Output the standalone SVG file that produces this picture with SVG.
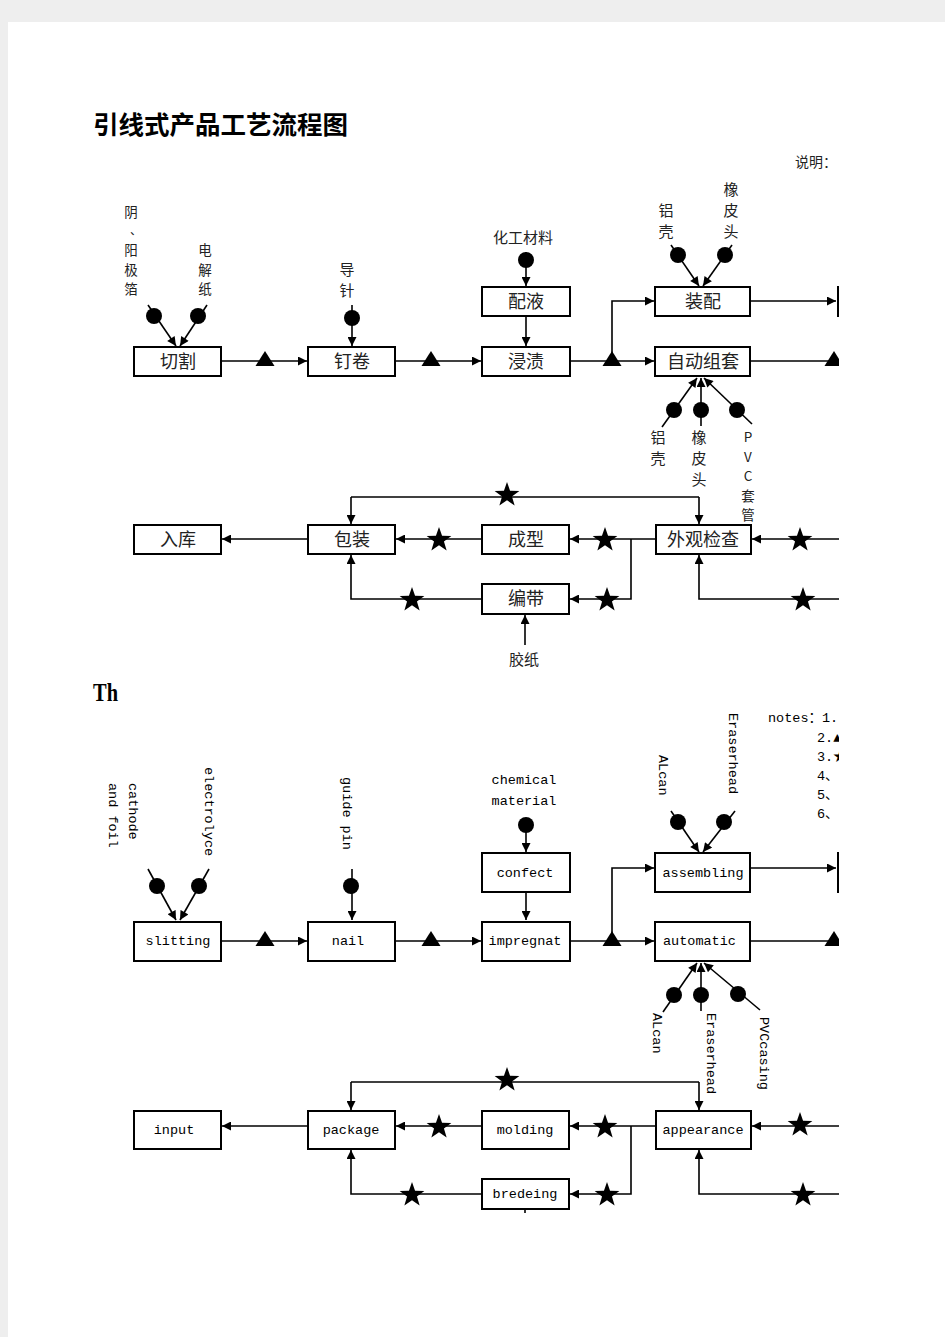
<svg xmlns="http://www.w3.org/2000/svg" xmlns:xlink="http://www.w3.org/1999/xlink" width="945" height="1337" viewBox="0 0 945 1337">
<style>
.bx{fill:#fff;stroke:#000;stroke-width:2}
.ln{fill:none;stroke:#000;stroke-width:1.6}
.ar{marker-end:url(#ah)}
.zh{font-family:"Noto Sans CJK SC",sans-serif;font-size:18px;fill:#222;text-anchor:middle}
.lb{font-family:"Noto Sans CJK SC",sans-serif;font-size:15px;fill:#222;text-anchor:middle}
.ls{font-family:"Noto Sans CJK SC",sans-serif;font-size:13.5px;fill:#222;text-anchor:middle}
.en{font-family:"Liberation Mono","Noto Sans CJK SC",monospace;font-size:13.5px;fill:#000;text-anchor:middle}
.ev{font-family:"Liberation Mono","Noto Sans CJK SC",monospace;font-size:13.5px;fill:#000}
.dot{fill:#000}
</style>
<defs>
<marker id="ah" viewBox="0 0 10 10" refX="10" refY="5" markerWidth="10" markerHeight="9" markerUnits="userSpaceOnUse" orient="auto"><path d="M0,0 L10,5 L0,10 Z" fill="#000"/></marker>
<path id="star" d="M0,-13 L3.06,-4.21 L12.36,-4.02 L4.95,1.61 L7.64,10.52 L0,5.2 L-7.64,10.52 L-4.95,1.61 L-12.36,-4.02 L-3.06,-4.21 Z" fill="#000"/>
<path id="tri" d="M0,-10 L9.5,5 L-9.5,5 Z" fill="#000"/>
<clipPath id="pg"><rect x="0" y="0" width="839" height="1337"/></clipPath>
</defs>
<rect x="0" y="0" width="945" height="1337" fill="#eeeeee"/>
<rect x="8" y="22" width="937" height="1315" fill="#fff"/>
<g clip-path="url(#pg)">
<text x="93" y="134" font-family="Noto Sans CJK SC,sans-serif" font-size="25.5" font-weight="bold" fill="#000">引线式产品工艺流程图</text>
<text x="795" y="167" class="lb" style="text-anchor:start;font-size:14px">说明：</text>

<g id="connectors-cn">
<path class="ln ar" d="M148,305 L176,346"/>
<path class="ln ar" d="M207,305 L180,346"/>
<path class="ln ar" d="M352,305 L352,346"/>
<path class="ln ar" d="M221,361 L307,361"/>
<path class="ln ar" d="M395,361 L481,361"/>
<path class="ln ar" d="M526,252 L526,286"/>
<path class="ln ar" d="M526,316 L526,346"/>
<path class="ln ar" d="M570,361 L654,361"/>
<path class="ln ar" d="M612,361 L612,301 L654,301"/>
<path class="ln ar" d="M671,245 L699,286"/>
<path class="ln ar" d="M732,245 L703,286"/>
<path class="ln ar" d="M750,301 L836,301"/>
<path class="ln" d="M751,361 L845,361"/>
<path class="ln ar" d="M662,427 L697,378"/>
<path class="ln ar" d="M701,426 L701,378"/>
<path class="ln ar" d="M752,424 L704,378"/>
<path class="ln" d="M351,497 L699,497"/>
<path class="ln ar" d="M351,497 L351,524"/>
<path class="ln ar" d="M699,497 L699,524"/>
<path class="ln ar" d="M308,539 L222,539"/>
<path class="ln ar" d="M482,539 L396,539"/>
<path class="ln ar" d="M656,539 L570,539"/>
<path class="ln ar" d="M631,539 L631,599 L570,599"/>
<path class="ln ar" d="M482,599 L351,599 L351,555"/>
<path class="ln ar" d="M845,539 L752,539"/>
<path class="ln ar" d="M845,599 L699,599 L699,555"/>
<path class="ln ar" d="M525,645 L525,615"/>
<use href="#tri" x="265" y="361"/>
<use href="#tri" x="431" y="361"/>
<use href="#tri" x="612" y="361"/>
<use href="#tri" x="834" y="361"/>
<use href="#star" x="507" y="495"/>
<use href="#star" x="439" y="540"/>
<use href="#star" x="605" y="540"/>
<use href="#star" x="800" y="540"/>
<use href="#star" x="412" y="600"/>
<use href="#star" x="607" y="600"/>
<use href="#star" x="803" y="600"/>
<circle class="dot" cx="154" cy="316" r="8"/>
<circle class="dot" cx="198" cy="316" r="8"/>
<circle class="dot" cx="352" cy="318" r="8"/>
<circle class="dot" cx="526" cy="260" r="8"/>
<circle class="dot" cx="678" cy="255" r="8"/>
<circle class="dot" cx="725" cy="255" r="8"/>
<circle class="dot" cx="674" cy="410" r="8"/>
<circle class="dot" cx="701" cy="410" r="8"/>
<circle class="dot" cx="737" cy="410" r="8"/>
</g>

<g id="labels-cn">
<text class="ls" x="131" y="217">阴</text>
<text class="ls" x="130" y="235" style="text-anchor:start;font-size:12px">、</text>
<text class="ls" x="131" y="255">阳</text>
<text class="ls" x="131" y="274.5">极</text>
<text class="ls" x="131" y="294">箔</text>
<text class="ls" x="205" y="255">电</text>
<text class="ls" x="205" y="274.5">解</text>
<text class="ls" x="205" y="294">纸</text>
<text class="lb"><tspan x="347" y="275">导</tspan><tspan x="347" y="296">针</tspan></text>
<text class="lb" x="523" y="243">化工材料</text>
<text class="lb"><tspan x="666" y="216">铝</tspan><tspan x="666" y="237">壳</tspan></text>
<text class="lb"><tspan x="731" y="195">橡</tspan><tspan x="731" y="216">皮</tspan><tspan x="731" y="237">头</tspan></text>
<text class="lb"><tspan x="658" y="443">铝</tspan><tspan x="658" y="464">壳</tspan></text>
<text class="lb"><tspan x="699" y="443">橡</tspan><tspan x="699" y="464">皮</tspan><tspan x="699" y="485">头</tspan></text>
<text class="ls"><tspan x="748" y="442">P</tspan><tspan x="748" y="461.5">V</tspan><tspan x="748" y="481">C</tspan><tspan x="748" y="500.5">套</tspan><tspan x="748" y="520">管</tspan></text>
<text class="lb" x="524" y="665">胶纸</text>
</g>

<g id="n-qiege"><rect class="bx" x="134" y="347" width="87" height="29"/><text class="zh" x="178" y="368">切割</text></g>
<g id="n-dingjuan"><rect class="bx" x="308" y="347" width="87" height="29"/><text class="zh" x="352" y="368">钉卷</text></g>
<g id="n-peiye"><rect class="bx" x="482" y="287" width="88" height="29"/><text class="zh" x="526" y="308">配液</text></g>
<g id="n-jinzi"><rect class="bx" x="482" y="347" width="88" height="29"/><text class="zh" x="526" y="368">浸渍</text></g>
<g id="n-zhuangpei"><rect class="bx" x="655" y="287" width="95" height="29"/><text class="zh" x="703" y="308">装配</text></g>
<g id="n-zidong"><rect class="bx" x="655" y="347" width="95" height="29"/><text class="zh" x="703" y="368">自动组套</text></g>
<g id="n-next1"><rect class="bx" x="838" y="287" width="60" height="29"/></g>
<g id="n-ruku"><rect class="bx" x="134" y="525" width="87" height="29"/><text class="zh" x="178" y="546">入库</text></g>
<g id="n-baozhuang"><rect class="bx" x="308" y="525" width="87" height="29"/><text class="zh" x="352" y="546">包装</text></g>
<g id="n-chengxing"><rect class="bx" x="482" y="525" width="87" height="29"/><text class="zh" x="526" y="546">成型</text></g>
<g id="n-waiguan"><rect class="bx" x="656" y="525" width="95" height="29"/><text class="zh" x="703" y="546">外观检查</text></g>
<g id="n-biandai"><rect class="bx" x="482" y="584" width="87" height="30"/><text class="zh" x="526" y="605">编带</text></g>

<text x="93" y="701" font-family="Liberation Serif,serif" font-size="26" font-weight="bold" fill="#000" textLength="25" lengthAdjust="spacingAndGlyphs">Th</text>
<g id="notes">
<text class="ev" x="768" y="722">notes：1.</text>
<text class="ev" x="817" y="742">2.▲</text>
<text class="ev" x="817" y="761">3.★</text>
<text class="ev" x="817" y="780">4、</text>
<text class="ev" x="817" y="799">5、</text>
<text class="ev" x="817" y="818">6、</text>
</g>

<g id="connectors-en">
<path class="ln ar" d="M148,869 L176,920"/>
<path class="ln ar" d="M209,869 L180,920"/>
<path class="ln ar" d="M352,869 L352,920"/>
<path class="ln ar" d="M221,941 L307,941"/>
<path class="ln ar" d="M395,941 L481,941"/>
<path class="ln ar" d="M526,818 L526,852"/>
<path class="ln ar" d="M526,892 L526,920"/>
<path class="ln ar" d="M570,941 L654,941"/>
<path class="ln ar" d="M612,941 L612,868 L654,868"/>
<path class="ln ar" d="M671,811 L699,852"/>
<path class="ln ar" d="M735,811 L703,852"/>
<path class="ln ar" d="M750,868 L836,868"/>
<path class="ln" d="M751,941 L845,941"/>
<path class="ln ar" d="M663,1012 L697,963"/>
<path class="ln ar" d="M701,1011 L701,963"/>
<path class="ln ar" d="M760,1010 L704,963"/>
<path class="ln" d="M351,1082 L699,1082"/>
<path class="ln ar" d="M351,1082 L351,1110"/>
<path class="ln ar" d="M699,1082 L699,1110"/>
<path class="ln ar" d="M308,1126 L222,1126"/>
<path class="ln ar" d="M482,1126 L396,1126"/>
<path class="ln ar" d="M656,1126 L570,1126"/>
<path class="ln ar" d="M631,1126 L631,1194 L570,1194"/>
<path class="ln ar" d="M482,1194 L351,1194 L351,1150"/>
<path class="ln ar" d="M845,1126 L752,1126"/>
<path class="ln ar" d="M845,1194 L699,1194 L699,1150"/>
<path class="ln" d="M525,1209 L525,1213"/>
<use href="#tri" x="265" y="941"/>
<use href="#tri" x="431" y="941"/>
<use href="#tri" x="612" y="941"/>
<use href="#tri" x="834" y="941"/>
<use href="#star" x="507" y="1080"/>
<use href="#star" x="439" y="1127"/>
<use href="#star" x="605" y="1127"/>
<use href="#star" x="800" y="1125"/>
<use href="#star" x="412" y="1195"/>
<use href="#star" x="607" y="1195"/>
<use href="#star" x="803" y="1195"/>
<circle class="dot" cx="157" cy="886" r="8"/>
<circle class="dot" cx="199" cy="886" r="8"/>
<circle class="dot" cx="351" cy="886" r="8"/>
<circle class="dot" cx="526" cy="825" r="8"/>
<circle class="dot" cx="678" cy="822" r="8"/>
<circle class="dot" cx="724" cy="822" r="8"/>
<circle class="dot" cx="674" cy="995" r="8"/>
<circle class="dot" cx="701" cy="995" r="8"/>
<circle class="dot" cx="738" cy="994" r="8"/>
</g>

<g id="labels-en">
<text class="ev" transform="translate(129,783) rotate(90)">cathode</text>
<text class="ev" transform="translate(109,783) rotate(90)">and foil</text>
<text class="ev" transform="translate(205,767) rotate(90)">electrolyce</text>
<text class="ev" transform="translate(343,777) rotate(90)">guide pin</text>
<text class="en" x="524" y="784">chemical</text>
<text class="en" x="524" y="805">material</text>
<text class="ev" transform="translate(659,755) rotate(90)">ALcan</text>
<text class="ev" transform="translate(729,713) rotate(90)">Eraserhead</text>
<text class="ev" transform="translate(653,1013) rotate(90)">ALcan</text>
<text class="ev" transform="translate(707,1013) rotate(90)">Eraserhead</text>
<text class="ev" transform="translate(760,1017) rotate(90)">PVCcasing</text>
</g>

<g id="e-slitting"><rect class="bx" x="134" y="922" width="87" height="39"/><text class="en" x="178" y="945">slitting</text></g>
<g id="e-nail"><rect class="bx" x="308" y="922" width="87" height="39"/><text class="en" x="348" y="945">nail</text></g>
<g id="e-confect"><rect class="bx" x="482" y="853" width="88" height="39"/><text class="en" x="525" y="877">confect</text></g>
<g id="e-impregnat"><rect class="bx" x="482" y="922" width="88" height="39"/><text class="en" x="525" y="945">impregnat</text></g>
<g id="e-assembling"><rect class="bx" x="655" y="853" width="95" height="39"/><text class="en" x="703" y="877">assembling</text></g>
<g id="e-automatic"><rect class="bx" x="655" y="922" width="95" height="39"/><text class="ev" x="663" y="945">automatic</text></g>
<g id="e-next1"><rect class="bx" x="838" y="853" width="60" height="39"/></g>
<g id="e-input"><rect class="bx" x="134" y="1111" width="87" height="38"/><text class="en" x="174" y="1134">input</text></g>
<g id="e-package"><rect class="bx" x="308" y="1111" width="87" height="38"/><text class="en" x="351" y="1134">package</text></g>
<g id="e-molding"><rect class="bx" x="482" y="1111" width="87" height="38"/><text class="en" x="525" y="1134">molding</text></g>
<g id="e-appearance"><rect class="bx" x="656" y="1111" width="95" height="38"/><text class="en" x="703" y="1134">appearance</text></g>
<g id="e-bredeing"><rect class="bx" x="482" y="1179" width="87" height="30"/><text class="en" x="525" y="1198">bredeing</text></g>
</g>
</svg>
